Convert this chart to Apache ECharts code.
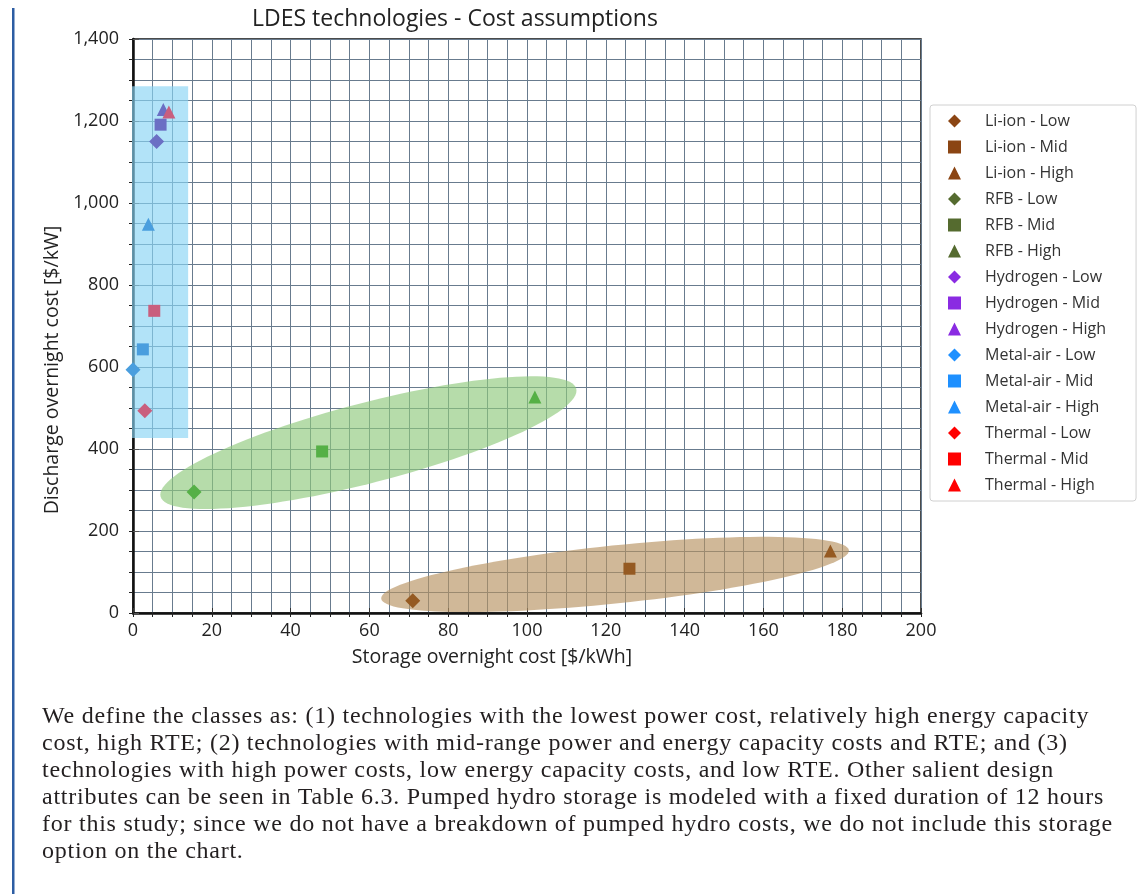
<!DOCTYPE html>
<html>
<head>
<meta charset="utf-8">
<script src="https://cdn.jsdelivr.net/npm/echarts@6/dist/echarts.min.js"></script>
<style>
html,body{margin:0;padding:0;background:#fff;}
#wrap{position:relative;width:1140px;height:894px;overflow:hidden;}
#chart{position:absolute;left:0;top:0;width:1140px;height:894px;}
#para{position:absolute;left:42px;top:702px;font-family:"Liberation Serif",serif;font-size:24px;
  letter-spacing:0.75px;line-height:27px;color:#231f20;white-space:nowrap;}
</style>
</head>
<body>
<div id="wrap">
<div id="chart"></div>
<div id="para"></div>
</div>
<script>
// ---------------- data ----------------
const technologies = ['Li-ion', 'RFB', 'Hydrogen', 'Metal-air', 'Thermal'];
const scenarios = ['Low', 'Mid', 'High'];
// storage overnight cost [$/kWh] per technology, per scenario (Low, Mid, High)
const storageCost = [
  [71, 126, 177],
  [15.5, 48, 102],
  [6, 7, 7.7],
  [0, 2.5, 3.9],
  [3, 5.4, 9.1]
];
// discharge overnight cost [$/kW]
const dischargeCost = [
  [30, 108, 151],
  [295, 394, 527],
  [1150, 1191, 1228],
  [593, 643, 948],
  [493, 737, 1222]
];
const xTicks = [0, 200, 20];    // min, max, interval
const yTicks = [0, 1400, 200];
// class highlight regions (data coordinates): ellipse tip points and box corners
const classEllipses = [
  [7, 284, 112.5, 547],
  [63, 35, 181.7, 153]
];
const classBox = [[0, 427, 14, 1285]];

const titleText = 'LDES technologies - Cost assumptions';
const xName = 'Storage overnight cost [$/kWh]';
const yName = 'Discharge overnight cost [$/kW]';
const paragraph = [
  'We define the classes as: (1) technologies with the lowest power cost, relatively high energy capacity',
  'cost, high RTE; (2) technologies with mid-range power and energy capacity costs and RTE; and (3)',
  'technologies with high power costs, low energy capacity costs, and low RTE. Other salient design',
  'attributes can be seen in Table 6.3. Pumped hydro storage is modeled with a fixed duration of 12 hours',
  'for this study; since we do not have a breakdown of pumped hydro costs, we do not include this storage',
  'option on the chart.'
];

// ---------------- styles ----------------
const FONT = '"Open Sans"';
const markerColors = ['#955a22', '#55b046', '#6b6fc4', '#4a9ede', '#c95f7e'];
const legendColors = ['#8B4513', '#556B2F', '#8A2BE2', '#1E90FF', '#FF0000'];
const symbols = ['diamond', 'rect', 'triangle'];
const symbolSizes = [15, 12, 13];
const ellipseColors = ['rgba(143,201,124,0.65)', 'rgba(183,146,97,0.65)'];
const ellipseHalfWidth = [40, 29];
const boxColor = 'rgba(137,212,245,0.65)';
const gridColor = '#687b8e';

// paragraph below the chart (real text)
const para = document.getElementById('para');
paragraph.forEach(line => {
  const d = document.createElement('div');
  d.textContent = line;
  para.appendChild(d);
});

const series = [];
const legendData = [];
technologies.forEach((t, ti) => {
  scenarios.forEach((s, si) => {
    const name = t + ' - ' + s;
    legendData.push({ name: name, icon: symbols[si], itemStyle: { color: legendColors[ti] } });
    series.push({
      name: name,
      type: 'scatter',
      xAxisIndex: 0, yAxisIndex: 0,
      symbol: symbols[si],
      symbolSize: symbolSizes[si],
      itemStyle: { color: markerColors[ti], opacity: 1 },
      z: 5,
      clip: false,
      data: [[storageCost[ti][si], dischargeCost[ti][si]]]
    });
  });
});

series.push({
  type: 'custom',
  name: 'ellipses',
  xAxisIndex: 0, yAxisIndex: 0,
  silent: true,
  z: 1,
  data: classEllipses,
  renderItem: function (params, api) {
    const p1 = api.coord([api.value(0), api.value(1)]);
    const p2 = api.coord([api.value(2), api.value(3)]);
    const cx = (p1[0] + p2[0]) / 2, cy = (p1[1] + p2[1]) / 2;
    const dx = (p2[0] - p1[0]) / 2, dy = (p2[1] - p1[1]) / 2;
    const a = Math.hypot(dx, dy);
    const ux = dx / a, uy = dy / a, vx = -uy, vy = ux;
    const b = ellipseHalfWidth[params.dataIndex];
    const pts = [];
    for (let i = 0; i < 120; i++) {
      const t = i / 120 * Math.PI * 2;
      pts.push([cx + a * Math.cos(t) * ux + b * Math.sin(t) * vx,
                cy + a * Math.cos(t) * uy + b * Math.sin(t) * vy]);
    }
    return { type: 'polygon', shape: { points: pts }, style: { fill: ellipseColors[params.dataIndex], stroke: null } };
  }
});
series.push({
  type: 'custom',
  name: 'box',
  xAxisIndex: 0, yAxisIndex: 0,
  silent: true,
  z: 1,
  data: classBox,
  renderItem: function (params, api) {
    const p1 = api.coord([api.value(0), api.value(1)]);
    const p2 = api.coord([api.value(2), api.value(3)]);
    return { type: 'rect', shape: { x: Math.min(p1[0], p2[0]) - 1, y: Math.min(p1[1], p2[1]),
      width: Math.abs(p2[0] - p1[0]) + 1, height: Math.abs(p2[1] - p1[1]) },
      style: { fill: boxColor, stroke: null } };
  }
});

const fmt = v => String(v).replace(/\B(?=(\d{3})+(?!\d))/g, ',');

const graphic = [
  { type: 'rect', left: 12, top: 8, shape: { width: 2.5, height: 886 }, style: { fill: '#2d5da3' }, silent: true }
];

const chart = echarts.init(document.getElementById('chart'), null, { renderer: 'canvas' });
chart.setOption({
  backgroundColor: 'transparent',
  animation: false,
  title: {
    text: titleText, left: 247, top: 3,
    textStyle: { fontFamily: FONT, fontSize: 23, fontWeight: 'normal', color: '#222' }
  },
  grid: { left: 133, top: 39, width: 788, height: 574, show: true, borderColor: '#111', borderWidth: 1.5, backgroundColor: 'transparent' },
  legend: {
    orient: 'vertical', left: 930, top: 105,
    data: legendData,
    itemWidth: 13, itemHeight: 13, itemGap: 10,
    padding: [8, 30, 8, 18],
    borderColor: '#d0d0d0', borderWidth: 1, borderRadius: 3,
    selectedMode: false,
    textStyle: { fontFamily: FONT, fontSize: 16, color: '#333', padding: [0, 0, 0, 19] }
  },
  xAxis: [
    {
      type: 'value', min: xTicks[0], max: xTicks[1], interval: xTicks[2], position: 'bottom',
      name: xName, nameLocation: 'middle', nameGap: 34,
      nameTextStyle: { fontFamily: FONT, fontSize: 19.5, color: '#222', padding: [0, 70, 0, 0] },
      axisLine: { show: true, lineStyle: { color: '#111', width: 2.5 } },
      axisTick: { show: true, inside: true, length: 5, lineStyle: { color: '#333' } },
      axisLabel: { fontFamily: FONT, fontSize: 18, color: '#222', margin: 9 },
      splitLine: { show: true, lineStyle: { color: gridColor, width: 1 } },
      minorTick: { show: false, splitNumber: 4 },
      minorSplitLine: { show: true, lineStyle: { color: gridColor, width: 1 } }
    },
    {
      type: 'value', min: xTicks[0], max: xTicks[1], interval: 5, position: 'bottom',
      axisLine: { show: false },
      axisTick: { show: true, inside: false, length: 4, lineStyle: { color: '#222' } },
      axisLabel: { show: false },
      splitLine: { show: false }
    }
  ],
  yAxis: [
    {
      type: 'value', min: yTicks[0], max: yTicks[1], interval: yTicks[2], position: 'left',
      name: yName, nameLocation: 'middle', nameGap: 66,
      nameTextStyle: { fontFamily: FONT, fontSize: 19.5, color: '#222', padding: [0, 88, 0, 0] },
      axisLine: { show: true, lineStyle: { color: '#111', width: 2.5 } },
      axisTick: { show: true, inside: true, length: 6, lineStyle: { color: '#555' } },
      axisLabel: { fontFamily: FONT, fontSize: 18, color: '#222', margin: 14, formatter: fmt },
      splitLine: { show: true, lineStyle: { color: gridColor, width: 1 } },
      minorTick: { show: false, splitNumber: 4 },
      minorSplitLine: { show: true, lineStyle: { color: gridColor, width: 1 } }
    },
    {
      type: 'value', min: yTicks[0], max: yTicks[1], interval: 50, position: 'left',
      axisLine: { show: false },
      axisTick: { show: true, inside: false, length: 4, lineStyle: { color: '#222' } },
      axisLabel: { show: false },
      splitLine: { show: false }
    }
  ],
  graphic: graphic,
  series: series
});
</script>
</body>
</html>
